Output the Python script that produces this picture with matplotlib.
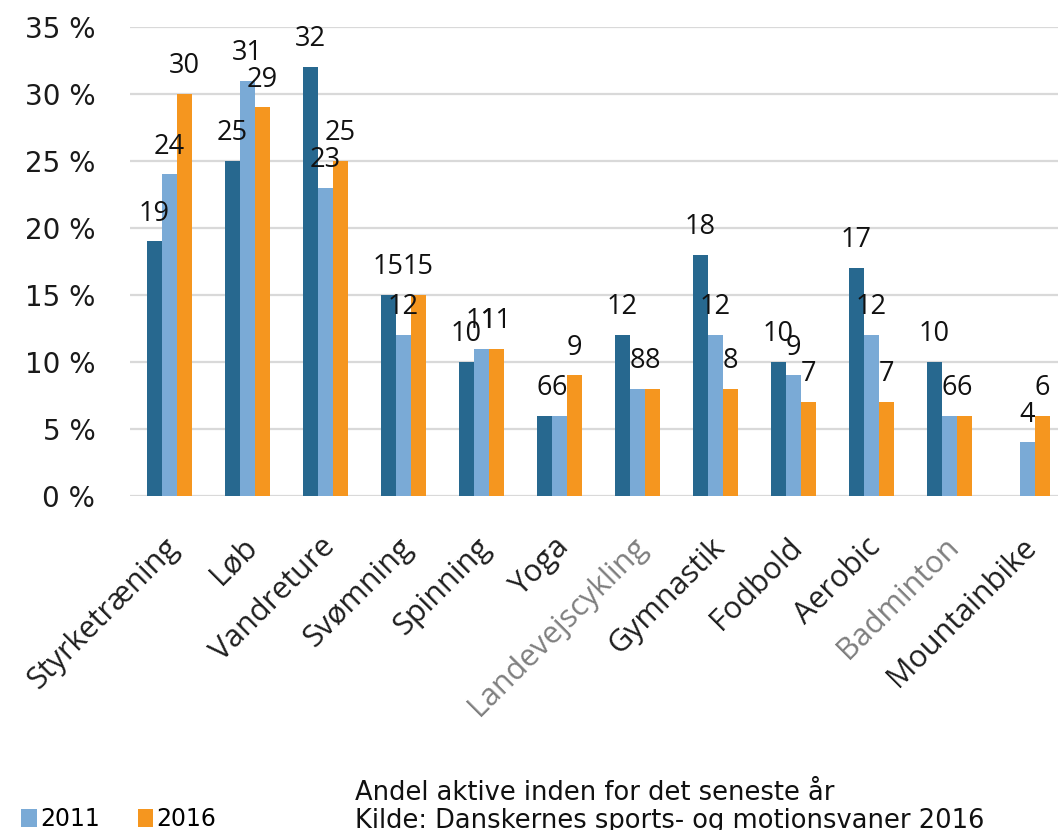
import matplotlib.pyplot as plt
import matplotlib.transforms as mtransforms
import numpy as np

# data (percent)
sports = ["Styrketræning", "Løb", "Vandreture", "Svømning", "Spinning", "Yoga",
          "Landevejscykling", "Gymnastik", "Fodbold", "Aerobic", "Badminton",
          "Mountainbike"]
share_2007 = [19, 25, 32, 15, 10, 6, 12, 18, 10, 17, 10, np.nan]
share_2011 = [24, 31, 23, 12, 11, 6, 8, 12, 9, 12, 6, 4]
share_2016 = [30, 29, 25, 15, 11, 9, 8, 8, 7, 7, 6, 6]
grey_labels = ["Landevejscykling", "Badminton"]
yticks = [0, 5, 10, 15, 20, 25, 30, 35]

c_dark = "#27688f"
c_light = "#7aaad6"
c_orange = "#f5961f"

fig = plt.figure(figsize=(10.58, 8.3), dpi=100)
ax = fig.add_axes([130 / 1058, 1 - 496 / 830, 928 / 1058, 469 / 830])

x = np.arange(len(sports))
w = 0.193
series = [(share_2007, c_dark, -w), (share_2011, c_light, 0), (share_2016, c_orange, w)]
handles = []
for vals, col, off in series:
    b = ax.bar(x + off, vals, width=w, color=col, zorder=2)
    handles.append(b)
    for xi, v in zip(x + off, vals):
        if np.isnan(v):
            continue
        ax.annotate(f"{v:g}", (xi, v), xytext=(0, 15), textcoords="offset points",
                    ha="center", va="baseline", fontsize=19.5, family="Open Sans",
                    color="#111111")

ax.set_xlim(-0.506, 11.39)
ax.set_ylim(0, 35)
ax.set_yticks(yticks)
ax.set_yticklabels([f"{t} %" for t in yticks], fontsize=20, color="#1a1a1a")
ax.tick_params(axis="y", length=0, pad=25)
ax.yaxis.grid(True, color="#d9d9d9", linewidth=1.6, zorder=0)
ax.set_axisbelow(True)
for s in ax.spines.values():
    s.set_visible(False)

ax.set_xticks(x)
ax.set_xticklabels(sports, rotation=45, ha="right", va="top", rotation_mode="anchor",
                   fontsize=22, family="Open Sans")
ax.tick_params(axis="x", length=0, pad=26)
shift = mtransforms.ScaledTranslation(-6 / 100, 0, fig.dpi_scale_trans)
for lab in ax.get_xticklabels():
    lab.set_transform(lab.get_transform() + shift)
    lab.set_color("#7f7f7f" if lab.get_text() in grey_labels else "#1e1e1e")

fig.legend(handles[1:], ["2011", "2016"], loc="lower left",
           bbox_to_anchor=(0.0, -0.027), ncol=2, frameon=False, fontsize=17,
           handlelength=0.65, handleheight=0.75, handletextpad=0.15, columnspacing=1.6)

fig.text(355 / 1058, 1 - 800 / 830, "Andel aktive inden for det seneste år",
         fontsize=18.5, va="baseline", color="#111111")
fig.text(355 / 1058, 1 - 828 / 830, "Kilde: Danskernes sports- og motionsvaner 2016",
         fontsize=18.5, va="baseline", color="#111111")

fig.savefig("out.png", dpi=100)
